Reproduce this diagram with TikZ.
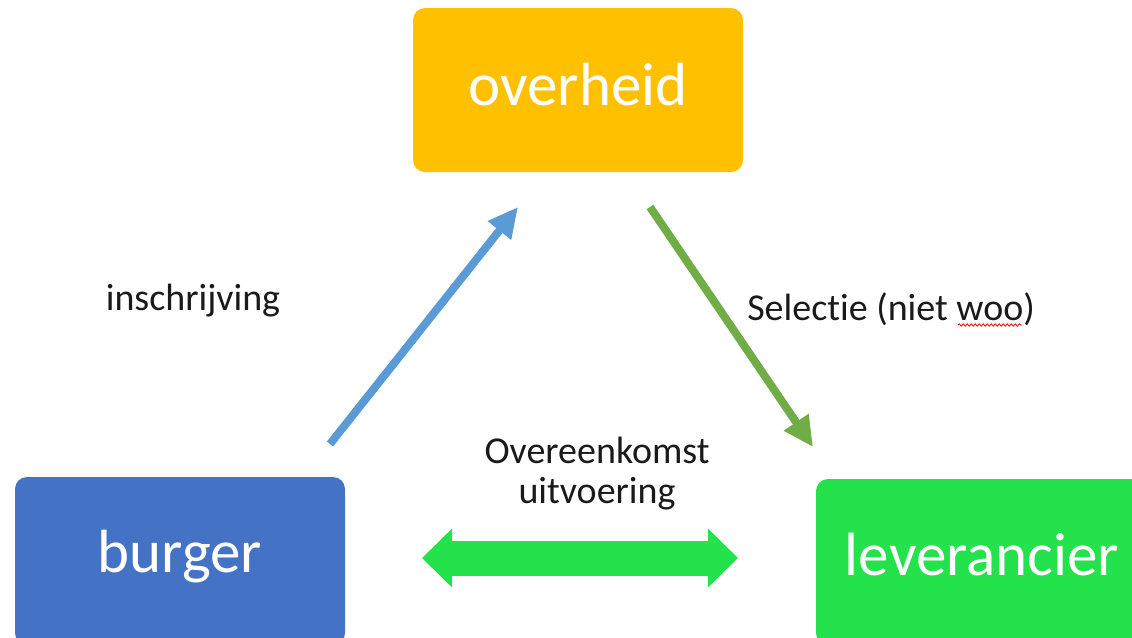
\documentclass[tikz,border=0pt]{standalone}
\usepackage{fontspec}
\setmainfont[Ligatures={NoCommon,NoRequired,NoContextual}]{Carlito}
\usetikzlibrary{arrows.meta,decorations.pathmorphing}
\definecolor{cOrange}{HTML}{FFC000}
\definecolor{cBlue}{HTML}{4472C4}
\definecolor{cGreen}{HTML}{23E24C}
\definecolor{cArrBlue}{HTML}{5B9BD5}
\definecolor{cArrGreen}{HTML}{70AD47}
\definecolor{cText}{HTML}{1A1A1A}
\begin{document}
\begin{tikzpicture}[x=0.75pt,y=-0.75pt,
  box/.style={rectangle, rounded corners=9pt, inner sep=0pt, text=white,
    font=\fontsize{45.75pt}{50pt}\selectfont},
  lbl/.style={anchor=base, text=cText, inner sep=0pt,
    font=\fontsize{28.5pt}{30pt}\selectfont},
  thinarrow/.style={line width=6pt, -{Triangle[length=22.5pt,width=21pt]}}
]
\useasboundingbox (0,0) rectangle (1132,637);
% boxes
\fill[cOrange, rounded corners=9pt] (413,8) rectangle (743,172);
\node[box, anchor=base] (overheid) at (578,105) {overheid};
\fill[cBlue, rounded corners=9pt] (15,477) rectangle (345,645);
\node[box, anchor=base] (burger) at (180,572) {burger};
\fill[cGreen, rounded corners=9pt] (816,479) rectangle (1160,645);
\node[box, anchor=base] (leverancier) at (982,575) {leverancier};
% arrows
\coordinate (b1) at (330,444);
\coordinate (b2) at (518,207);
\draw[thinarrow, cArrBlue] (b1) -- (b2);
\coordinate (g1) at (650,207);
\coordinate (g2) at (813,447);
\draw[thinarrow, cArrGreen] (g1) -- (g2);
\coordinate (d1) at (422,558);
\coordinate (d2) at (738,558);
\draw[cGreen, line width=26.25pt,
  {Triangle[length=22.5pt,width=42.75pt]}-{Triangle[length=22.5pt,width=42.75pt]}] (d1) -- (d2);
% labels
\node[lbl] (inschr) at (193,310) {inschrijving};
\node[lbl, anchor=base west] (selectie) at (747,320) {Selectie (niet woo)};
\node[lbl] (overeen) at (597,463) {Overeenkomst};
\node[lbl] (uitv) at (597,503) {uitvoering};
\coordinate (w1) at (958,325);
\coordinate (w2) at (1022,325);
\draw[red, line width=0.6pt, decorate, decoration={snake, amplitude=0.9pt, segment length=3pt}] (w1) -- (w2);
\end{tikzpicture}
\end{document}
